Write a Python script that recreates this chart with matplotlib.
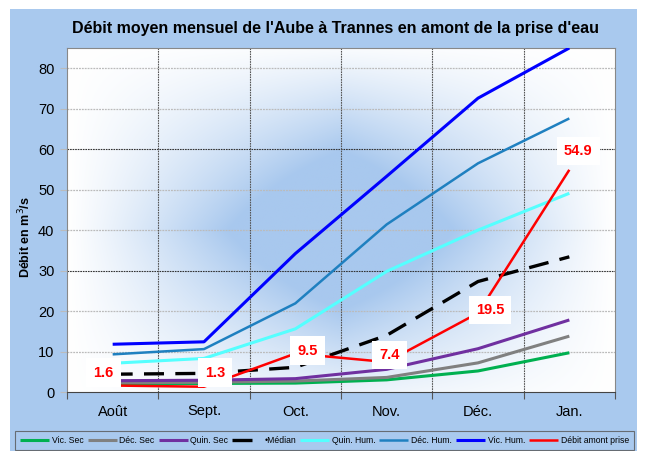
import numpy as np
import matplotlib
matplotlib.use("Agg")
import matplotlib.pyplot as plt
from matplotlib.patches import Rectangle
from matplotlib.colors import to_rgb

plt.rcParams['font.family'] = ['Liberation Sans', 'DejaVu Sans']

months = ["Août", "Sept.", "Oct.", "Nov.", "Déc.", "Jan."]
vic_sec = [2.0, 2.1, 2.2, 3.0, 5.2, 9.7]
dec_sec = [2.3, 2.4, 2.7, 3.6, 7.2, 13.8]
quin_sec = [2.8, 2.9, 3.3, 5.6, 10.7, 17.8]
median = [4.4, 4.6, 6.1, 14.0, 27.3, 33.4]
quin_hum = [7.1, 8.3, 15.6, 29.8, 40.0, 49.1]
dec_hum = [9.3, 10.6, 21.9, 41.4, 56.5, 67.6]
vic_hum = [11.8, 12.4, 34.2, 53.3, 72.6, 85.0]
debit_prise = [1.6, 1.3, 9.5, 7.4, 19.5, 54.9]
debit_labels = ["1.6", "1.3", "9.5", "7.4", "19.5", "54.9"]
yticks = [0, 10, 20, 30, 40, 50, 60, 70, 80]

W, H = 645, 451
fig = plt.figure(figsize=(W / 100, H / 100), dpi=100)
fig.patch.set_facecolor('white')
bg = '#a9c9ee'
fig.patches.append(Rectangle((10 / W, 0), 627 / W, 1 - 9 / H, transform=fig.transFigure,
                             facecolor=bg, edgecolor='none', zorder=-10))

ax = fig.add_axes([67 / W, (H - 392) / H, 548 / W, 344 / H])
ax.set_xlim(-0.5, 5.5)
ax.set_ylim(0, 85)
ax.set_facecolor('white')

# gradient background
nx, ny = 300, 200
xs = np.linspace(0, 1, nx)
ys = np.linspace(0, 1, ny)
X, Y = np.meshgrid(xs, ys)
cx, cy = 0.50, 0.47
dx = np.abs(X - cx) / 0.50
dy = np.abs(Y - cy) / 0.56
t = np.clip(1 - dx, 0, 1) * np.clip(1 - dy, 0, 1)
t = np.clip(t * 1.7, 0, 1) ** 1.1
c1 = np.array(to_rgb('#a8c8ee'))
img = (1 - t[..., None]) * np.ones(3) + t[..., None] * c1
ax.imshow(img, extent=[0, 1, 0, 1], transform=ax.transAxes, origin='lower',
          aspect='auto', zorder=0, interpolation='bilinear')

# grid
for v in yticks[1:]:
    dark = v in (30, 60)
    ax.axhline(v, color='#333333' if dark else '#bbbbbb', lw=0.8 if dark else 0.9,
               ls=(0, (1.5, 0.8)), zorder=1)
for b in np.arange(0.5, 5.5, 1.0):
    ax.axvline(b, color='#555555', lw=0.8, ls=(0, (1.5, 0.8)), zorder=1)

x = np.arange(len(months))
series = [
    (vic_sec, '#00b050', 'Vic. Sec', '-', 2.2),
    (dec_sec, '#808080', 'Déc. Sec', '-', 2.2),
    (quin_sec, '#7030a0', 'Quin. Sec', '-', 2.2),
    (median, '#000000', '•Médian', (0, (6, 3.4)), 2.4),
    (quin_hum, '#55ffff', 'Quin. Hum.', '-', 2.2),
    (dec_hum, '#1f80c0', 'Déc. Hum.', '-', 1.8),
    (vic_hum, '#0000ff', 'Vic. Hum.', '-', 2.2),
    (debit_prise, '#ff0000', 'Débit amont prise', '-', 1.8),
]
handles = []
for vals, col, lab, ls, lw in series:
    h, = ax.plot(x, vals, color=col, ls=ls, lw=lw, label=lab, zorder=3,
                 solid_capstyle='butt', dash_capstyle='butt', clip_on=True)
    handles.append(h)

offsets = [(-9, 13), (11, 14), (12, 3), (3, 7), (12, 3), (9, 19)]
for xi, v, txt, off in zip(x, debit_prise, debit_labels, offsets):
    ax.annotate(txt, (xi, v), xytext=off, textcoords='offset pixels',
                ha='center', va='center', color='#ff0000', fontsize=10.5,
                fontweight='bold', zorder=5,
                bbox=dict(boxstyle='square,pad=0.5', fc='white', ec='none'))

ax.set_yticks(yticks)
ax.set_yticklabels([str(v) for v in yticks], fontsize=10.5)
ax.set_xticks(np.arange(-0.5, 6.0, 1.0))
ax.set_xticklabels([])
ax.set_xticks(x, minor=True)
ax.set_xticklabels(months, minor=True, fontsize=10.5)
ax.tick_params(axis='x', which='minor', length=0, pad=9)
ax.tick_params(axis='x', which='major', length=5, color='#555555', width=0.8)
ax.tick_params(axis='y', length=5, width=0.8, color='#bbbbbb', pad=4)
for tk, v in zip(ax.yaxis.get_major_ticks(), yticks):
    if v in (0, 30, 60):
        tk.tick1line.set_color('#333333')
for s in ax.spines.values():
    s.set_color('#888888')
    s.set_linewidth(0.8)
ax.spines['bottom'].set_color('#444444')

fig.text(336 / W, 1 - 28 / H, "Débit moyen mensuel de l'Aube à Trannes en amont de la prise d'eau",
         ha='center', va='center', fontsize=11.5, fontweight='bold')
fig.text(25 / W, 1 - 237 / H, "Débit en m$^3$/s", rotation=90, ha='center', va='center',
         fontsize=9, fontweight='bold')

leg = fig.legend(handles=handles, loc='lower left', ncol=8, mode='expand',
                 bbox_to_anchor=(15 / W, 1 / H, 619 / W, 25 / H),
                 fontsize=6.2, frameon=True, fancybox=False, handlelength=3.4,
                 handletextpad=0.3, columnspacing=0.5, borderaxespad=0, borderpad=0.6)
leg.get_frame().set_facecolor(bg)
leg.get_frame().set_edgecolor('#555555')
leg.get_frame().set_linewidth(0.8)

fig.savefig('out.png', dpi=100, facecolor=fig.get_facecolor())
